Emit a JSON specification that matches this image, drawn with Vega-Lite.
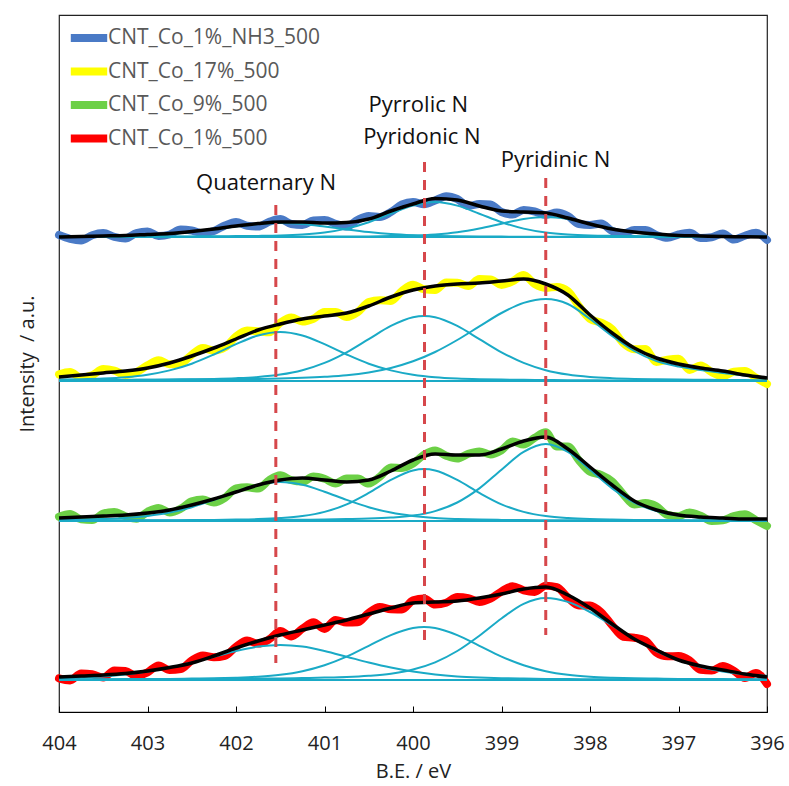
{
"$schema":"https://vega.github.io/schema/vega-lite/v6.json",
"width":708,"height":697,
"autosize":{"type":"none"},
"padding":{"left":59,"top":15,"right":22,"bottom":74},
"background":"white",
"config":{"view":{"stroke":"#222","strokeWidth":1.2},"font":"Open Sans"},
"datasets":{
"noisy":[
{"x":404,"y":477,"s":"CNT_Co_1%_NH3_500"},{"x":403.875,"y":473.2,"s":"CNT_Co_1%_NH3_500"},{"x":403.75,"y":471.5,"s":"CNT_Co_1%_NH3_500"},{"x":403.625,"y":476.8,"s":"CNT_Co_1%_NH3_500"},{"x":403.5,"y":479,"s":"CNT_Co_1%_NH3_500"},{"x":403.375,"y":475.2,"s":"CNT_Co_1%_NH3_500"},{"x":403.25,"y":473.5,"s":"CNT_Co_1%_NH3_500"},{"x":403.125,"y":479,"s":"CNT_Co_1%_NH3_500"},{"x":403,"y":480.5,"s":"CNT_Co_1%_NH3_500"},{"x":402.875,"y":476,"s":"CNT_Co_1%_NH3_500"},{"x":402.75,"y":477.5,"s":"CNT_Co_1%_NH3_500"},{"x":402.625,"y":482.5,"s":"CNT_Co_1%_NH3_500"},{"x":402.5,"y":481.5,"s":"CNT_Co_1%_NH3_500"},{"x":402.375,"y":478.8,"s":"CNT_Co_1%_NH3_500"},{"x":402.25,"y":481,"s":"CNT_Co_1%_NH3_500"},{"x":402.125,"y":486.5,"s":"CNT_Co_1%_NH3_500"},{"x":402,"y":490,"s":"CNT_Co_1%_NH3_500"},{"x":401.875,"y":486.2,"s":"CNT_Co_1%_NH3_500"},{"x":401.75,"y":485.5,"s":"CNT_Co_1%_NH3_500"},{"x":401.625,"y":490.2,"s":"CNT_Co_1%_NH3_500"},{"x":401.5,"y":493,"s":"CNT_Co_1%_NH3_500"},{"x":401.375,"y":488,"s":"CNT_Co_1%_NH3_500"},{"x":401.25,"y":487,"s":"CNT_Co_1%_NH3_500"},{"x":401.125,"y":491.5,"s":"CNT_Co_1%_NH3_500"},{"x":401,"y":492,"s":"CNT_Co_1%_NH3_500"},{"x":400.875,"y":488.2,"s":"CNT_Co_1%_NH3_500"},{"x":400.75,"y":485.5,"s":"CNT_Co_1%_NH3_500"},{"x":400.625,"y":492.2,"s":"CNT_Co_1%_NH3_500"},{"x":400.5,"y":496,"s":"CNT_Co_1%_NH3_500"},{"x":400.375,"y":495,"s":"CNT_Co_1%_NH3_500"},{"x":400.25,"y":500,"s":"CNT_Co_1%_NH3_500"},{"x":400.125,"y":507.5,"s":"CNT_Co_1%_NH3_500"},{"x":400,"y":510,"s":"CNT_Co_1%_NH3_500"},{"x":399.875,"y":507.8,"s":"CNT_Co_1%_NH3_500"},{"x":399.75,"y":511.5,"s":"CNT_Co_1%_NH3_500"},{"x":399.625,"y":515.8,"s":"CNT_Co_1%_NH3_500"},{"x":399.5,"y":513,"s":"CNT_Co_1%_NH3_500"},{"x":399.375,"y":506,"s":"CNT_Co_1%_NH3_500"},{"x":399.25,"y":508,"s":"CNT_Co_1%_NH3_500"},{"x":399.125,"y":507.5,"s":"CNT_Co_1%_NH3_500"},{"x":399,"y":500,"s":"CNT_Co_1%_NH3_500"},{"x":398.875,"y":497.5,"s":"CNT_Co_1%_NH3_500"},{"x":398.75,"y":502,"s":"CNT_Co_1%_NH3_500"},{"x":398.625,"y":500.5,"s":"CNT_Co_1%_NH3_500"},{"x":398.5,"y":497,"s":"CNT_Co_1%_NH3_500"},{"x":398.375,"y":499.5,"s":"CNT_Co_1%_NH3_500"},{"x":398.25,"y":496,"s":"CNT_Co_1%_NH3_500"},{"x":398.125,"y":488,"s":"CNT_Co_1%_NH3_500"},{"x":398,"y":487,"s":"CNT_Co_1%_NH3_500"},{"x":397.875,"y":488.5,"s":"CNT_Co_1%_NH3_500"},{"x":397.75,"y":481,"s":"CNT_Co_1%_NH3_500"},{"x":397.625,"y":478.5,"s":"CNT_Co_1%_NH3_500"},{"x":397.5,"y":482,"s":"CNT_Co_1%_NH3_500"},{"x":397.375,"y":482,"s":"CNT_Co_1%_NH3_500"},{"x":397.25,"y":477,"s":"CNT_Co_1%_NH3_500"},{"x":397.125,"y":474.2,"s":"CNT_Co_1%_NH3_500"},{"x":397,"y":477.5,"s":"CNT_Co_1%_NH3_500"},{"x":396.875,"y":479.2,"s":"CNT_Co_1%_NH3_500"},{"x":396.75,"y":474,"s":"CNT_Co_1%_NH3_500"},{"x":396.625,"y":474.8,"s":"CNT_Co_1%_NH3_500"},{"x":396.5,"y":478.5,"s":"CNT_Co_1%_NH3_500"},{"x":396.375,"y":472.4,"s":"CNT_Co_1%_NH3_500"},{"x":396.25,"y":476.3,"s":"CNT_Co_1%_NH3_500"},{"x":396.125,"y":479.2,"s":"CNT_Co_1%_NH3_500"},{"x":396,"y":472,"s":"CNT_Co_1%_NH3_500"},
{"x":404,"y":337.6,"s":"CNT_Co_17%_500"},{"x":403.875,"y":339.9,"s":"CNT_Co_17%_500"},{"x":403.75,"y":334.4,"s":"CNT_Co_17%_500"},{"x":403.625,"y":336.7,"s":"CNT_Co_17%_500"},{"x":403.5,"y":342.9,"s":"CNT_Co_17%_500"},{"x":403.375,"y":341.3,"s":"CNT_Co_17%_500"},{"x":403.25,"y":337.1,"s":"CNT_Co_17%_500"},{"x":403.125,"y":339.9,"s":"CNT_Co_17%_500"},{"x":403,"y":346.6,"s":"CNT_Co_17%_500"},{"x":402.875,"y":351.7,"s":"CNT_Co_17%_500"},{"x":402.75,"y":347.7,"s":"CNT_Co_17%_500"},{"x":402.625,"y":348.6,"s":"CNT_Co_17%_500"},{"x":402.5,"y":357.3,"s":"CNT_Co_17%_500"},{"x":402.375,"y":363.9,"s":"CNT_Co_17%_500"},{"x":402.25,"y":361.4,"s":"CNT_Co_17%_500"},{"x":402.125,"y":364.6,"s":"CNT_Co_17%_500"},{"x":402,"y":375.6,"s":"CNT_Co_17%_500"},{"x":401.875,"y":381.4,"s":"CNT_Co_17%_500"},{"x":401.75,"y":380.7,"s":"CNT_Co_17%_500"},{"x":401.625,"y":379.8,"s":"CNT_Co_17%_500"},{"x":401.5,"y":389.3,"s":"CNT_Co_17%_500"},{"x":401.375,"y":394.4,"s":"CNT_Co_17%_500"},{"x":401.25,"y":390.4,"s":"CNT_Co_17%_500"},{"x":401.125,"y":393.2,"s":"CNT_Co_17%_500"},{"x":401,"y":399.9,"s":"CNT_Co_17%_500"},{"x":400.875,"y":400.1,"s":"CNT_Co_17%_500"},{"x":400.75,"y":395.1,"s":"CNT_Co_17%_500"},{"x":400.625,"y":399.9,"s":"CNT_Co_17%_500"},{"x":400.5,"y":409.9,"s":"CNT_Co_17%_500"},{"x":400.375,"y":411.8,"s":"CNT_Co_17%_500"},{"x":400.25,"y":411.1,"s":"CNT_Co_17%_500"},{"x":400.125,"y":421.1,"s":"CNT_Co_17%_500"},{"x":400,"y":427.2,"s":"CNT_Co_17%_500"},{"x":399.875,"y":422.7,"s":"CNT_Co_17%_500"},{"x":399.75,"y":422.1,"s":"CNT_Co_17%_500"},{"x":399.625,"y":429.6,"s":"CNT_Co_17%_500"},{"x":399.5,"y":429.3,"s":"CNT_Co_17%_500"},{"x":399.375,"y":425.9,"s":"CNT_Co_17%_500"},{"x":399.25,"y":432.9,"s":"CNT_Co_17%_500"},{"x":399.125,"y":432.6,"s":"CNT_Co_17%_500"},{"x":399,"y":427.1,"s":"CNT_Co_17%_500"},{"x":398.875,"y":430.7,"s":"CNT_Co_17%_500"},{"x":398.75,"y":436.9,"s":"CNT_Co_17%_500"},{"x":398.625,"y":427.9,"s":"CNT_Co_17%_500"},{"x":398.5,"y":424.1,"s":"CNT_Co_17%_500"},{"x":398.375,"y":425.1,"s":"CNT_Co_17%_500"},{"x":398.25,"y":420.9,"s":"CNT_Co_17%_500"},{"x":398.125,"y":405.7,"s":"CNT_Co_17%_500"},{"x":398,"y":393.1,"s":"CNT_Co_17%_500"},{"x":397.875,"y":389.3,"s":"CNT_Co_17%_500"},{"x":397.75,"y":382.9,"s":"CNT_Co_17%_500"},{"x":397.625,"y":368.9,"s":"CNT_Co_17%_500"},{"x":397.5,"y":362.7,"s":"CNT_Co_17%_500"},{"x":397.375,"y":362.9,"s":"CNT_Co_17%_500"},{"x":397.25,"y":350.1,"s":"CNT_Co_17%_500"},{"x":397.125,"y":352.3,"s":"CNT_Co_17%_500"},{"x":397,"y":353.2,"s":"CNT_Co_17%_500"},{"x":396.875,"y":342.1,"s":"CNT_Co_17%_500"},{"x":396.75,"y":346.6,"s":"CNT_Co_17%_500"},{"x":396.625,"y":339.9,"s":"CNT_Co_17%_500"},{"x":396.5,"y":335.8,"s":"CNT_Co_17%_500"},{"x":396.375,"y":340.3,"s":"CNT_Co_17%_500"},{"x":396.25,"y":340.9,"s":"CNT_Co_17%_500"},{"x":396.125,"y":334.2,"s":"CNT_Co_17%_500"},{"x":396,"y":328,"s":"CNT_Co_17%_500"},
{"x":404,"y":195.2,"s":"CNT_Co_9%_500"},{"x":403.875,"y":198.1,"s":"CNT_Co_9%_500"},{"x":403.75,"y":192.6,"s":"CNT_Co_9%_500"},{"x":403.625,"y":191.9,"s":"CNT_Co_9%_500"},{"x":403.5,"y":198.4,"s":"CNT_Co_9%_500"},{"x":403.375,"y":200.1,"s":"CNT_Co_9%_500"},{"x":403.25,"y":195.8,"s":"CNT_Co_9%_500"},{"x":403.125,"y":193.2,"s":"CNT_Co_9%_500"},{"x":403,"y":200.2,"s":"CNT_Co_9%_500"},{"x":402.875,"y":204.1,"s":"CNT_Co_9%_500"},{"x":402.75,"y":199.6,"s":"CNT_Co_9%_500"},{"x":402.625,"y":203.3,"s":"CNT_Co_9%_500"},{"x":402.5,"y":210.6,"s":"CNT_Co_9%_500"},{"x":402.375,"y":212.4,"s":"CNT_Co_9%_500"},{"x":402.25,"y":209.4,"s":"CNT_Co_9%_500"},{"x":402.125,"y":214.1,"s":"CNT_Co_9%_500"},{"x":402,"y":223.6,"s":"CNT_Co_9%_500"},{"x":401.875,"y":224.7,"s":"CNT_Co_9%_500"},{"x":401.75,"y":223.4,"s":"CNT_Co_9%_500"},{"x":401.625,"y":231.9,"s":"CNT_Co_9%_500"},{"x":401.5,"y":236.8,"s":"CNT_Co_9%_500"},{"x":401.375,"y":231.8,"s":"CNT_Co_9%_500"},{"x":401.25,"y":230.4,"s":"CNT_Co_9%_500"},{"x":401.125,"y":235.4,"s":"CNT_Co_9%_500"},{"x":401,"y":233.2,"s":"CNT_Co_9%_500"},{"x":400.875,"y":228.6,"s":"CNT_Co_9%_500"},{"x":400.75,"y":233.6,"s":"CNT_Co_9%_500"},{"x":400.625,"y":233.4,"s":"CNT_Co_9%_500"},{"x":400.5,"y":228.4,"s":"CNT_Co_9%_500"},{"x":400.375,"y":235.3,"s":"CNT_Co_9%_500"},{"x":400.25,"y":244.6,"s":"CNT_Co_9%_500"},{"x":400.125,"y":244.1,"s":"CNT_Co_9%_500"},{"x":400,"y":248.4,"s":"CNT_Co_9%_500"},{"x":399.875,"y":257.4,"s":"CNT_Co_9%_500"},{"x":399.75,"y":261.6,"s":"CNT_Co_9%_500"},{"x":399.625,"y":256.3,"s":"CNT_Co_9%_500"},{"x":399.5,"y":253.4,"s":"CNT_Co_9%_500"},{"x":399.375,"y":258.2,"s":"CNT_Co_9%_500"},{"x":399.25,"y":260.6,"s":"CNT_Co_9%_500"},{"x":399.125,"y":257.6,"s":"CNT_Co_9%_500"},{"x":399,"y":261.8,"s":"CNT_Co_9%_500"},{"x":398.875,"y":270.6,"s":"CNT_Co_9%_500"},{"x":398.75,"y":267.4,"s":"CNT_Co_9%_500"},{"x":398.625,"y":274.2,"s":"CNT_Co_9%_500"},{"x":398.5,"y":279.8,"s":"CNT_Co_9%_500"},{"x":398.375,"y":265.4,"s":"CNT_Co_9%_500"},{"x":398.25,"y":265.4,"s":"CNT_Co_9%_500"},{"x":398.125,"y":251.6,"s":"CNT_Co_9%_500"},{"x":398,"y":240.2,"s":"CNT_Co_9%_500"},{"x":397.875,"y":237.2,"s":"CNT_Co_9%_500"},{"x":397.75,"y":230.6,"s":"CNT_Co_9%_500"},{"x":397.625,"y":217.8,"s":"CNT_Co_9%_500"},{"x":397.5,"y":207.4,"s":"CNT_Co_9%_500"},{"x":397.375,"y":208.9,"s":"CNT_Co_9%_500"},{"x":397.25,"y":205.6,"s":"CNT_Co_9%_500"},{"x":397.125,"y":197.1,"s":"CNT_Co_9%_500"},{"x":397,"y":195.8,"s":"CNT_Co_9%_500"},{"x":396.875,"y":199.6,"s":"CNT_Co_9%_500"},{"x":396.75,"y":196.2,"s":"CNT_Co_9%_500"},{"x":396.625,"y":190.9,"s":"CNT_Co_9%_500"},{"x":396.5,"y":191.6,"s":"CNT_Co_9%_500"},{"x":396.375,"y":195.9,"s":"CNT_Co_9%_500"},{"x":396.25,"y":197.8,"s":"CNT_Co_9%_500"},{"x":396.125,"y":191.8,"s":"CNT_Co_9%_500"},{"x":396,"y":186,"s":"CNT_Co_9%_500"},
{"x":404,"y":33.7,"s":"CNT_Co_1%_500"},{"x":403.875,"y":31.6,"s":"CNT_Co_1%_500"},{"x":403.75,"y":38.6,"s":"CNT_Co_1%_500"},{"x":403.625,"y":37.8,"s":"CNT_Co_1%_500"},{"x":403.5,"y":34.4,"s":"CNT_Co_1%_500"},{"x":403.375,"y":41.6,"s":"CNT_Co_1%_500"},{"x":403.25,"y":41.1,"s":"CNT_Co_1%_500"},{"x":403.125,"y":35.9,"s":"CNT_Co_1%_500"},{"x":403,"y":39.7,"s":"CNT_Co_1%_500"},{"x":402.875,"y":46.6,"s":"CNT_Co_1%_500"},{"x":402.75,"y":41.9,"s":"CNT_Co_1%_500"},{"x":402.625,"y":42.9,"s":"CNT_Co_1%_500"},{"x":402.5,"y":51.6,"s":"CNT_Co_1%_500"},{"x":402.375,"y":56.4,"s":"CNT_Co_1%_500"},{"x":402.25,"y":54.7,"s":"CNT_Co_1%_500"},{"x":402.125,"y":56.1,"s":"CNT_Co_1%_500"},{"x":402,"y":65.3,"s":"CNT_Co_1%_500"},{"x":401.875,"y":71.4,"s":"CNT_Co_1%_500"},{"x":401.75,"y":68.4,"s":"CNT_Co_1%_500"},{"x":401.625,"y":72.7,"s":"CNT_Co_1%_500"},{"x":401.5,"y":80.9,"s":"CNT_Co_1%_500"},{"x":401.375,"y":75.6,"s":"CNT_Co_1%_500"},{"x":401.25,"y":83.3,"s":"CNT_Co_1%_500"},{"x":401.125,"y":89.7,"s":"CNT_Co_1%_500"},{"x":401,"y":83.1,"s":"CNT_Co_1%_500"},{"x":400.875,"y":92.1,"s":"CNT_Co_1%_500"},{"x":400.75,"y":89.4,"s":"CNT_Co_1%_500"},{"x":400.625,"y":89.8,"s":"CNT_Co_1%_500"},{"x":400.5,"y":99.3,"s":"CNT_Co_1%_500"},{"x":400.375,"y":104.9,"s":"CNT_Co_1%_500"},{"x":400.25,"y":102.7,"s":"CNT_Co_1%_500"},{"x":400.125,"y":102.6,"s":"CNT_Co_1%_500"},{"x":400,"y":111.6,"s":"CNT_Co_1%_500"},{"x":399.875,"y":113.4,"s":"CNT_Co_1%_500"},{"x":399.75,"y":107.4,"s":"CNT_Co_1%_500"},{"x":399.625,"y":109.2,"s":"CNT_Co_1%_500"},{"x":399.5,"y":114.9,"s":"CNT_Co_1%_500"},{"x":399.375,"y":113.8,"s":"CNT_Co_1%_500"},{"x":399.25,"y":110.1,"s":"CNT_Co_1%_500"},{"x":399.125,"y":113.4,"s":"CNT_Co_1%_500"},{"x":399,"y":120.6,"s":"CNT_Co_1%_500"},{"x":398.875,"y":125.7,"s":"CNT_Co_1%_500"},{"x":398.75,"y":121.7,"s":"CNT_Co_1%_500"},{"x":398.625,"y":120.1,"s":"CNT_Co_1%_500"},{"x":398.5,"y":126.3,"s":"CNT_Co_1%_500"},{"x":398.375,"y":124.9,"s":"CNT_Co_1%_500"},{"x":398.25,"y":114.4,"s":"CNT_Co_1%_500"},{"x":398.125,"y":106.6,"s":"CNT_Co_1%_500"},{"x":398,"y":106.6,"s":"CNT_Co_1%_500"},{"x":397.875,"y":99.9,"s":"CNT_Co_1%_500"},{"x":397.75,"y":86.7,"s":"CNT_Co_1%_500"},{"x":397.625,"y":75.3,"s":"CNT_Co_1%_500"},{"x":397.5,"y":74.3,"s":"CNT_Co_1%_500"},{"x":397.375,"y":71.4,"s":"CNT_Co_1%_500"},{"x":397.25,"y":59.4,"s":"CNT_Co_1%_500"},{"x":397.125,"y":55.7,"s":"CNT_Co_1%_500"},{"x":397,"y":55.9,"s":"CNT_Co_1%_500"},{"x":396.875,"y":51.6,"s":"CNT_Co_1%_500"},{"x":396.75,"y":42.1,"s":"CNT_Co_1%_500"},{"x":396.625,"y":41.4,"s":"CNT_Co_1%_500"},{"x":396.5,"y":45.9,"s":"CNT_Co_1%_500"},{"x":396.375,"y":41.3,"s":"CNT_Co_1%_500"},{"x":396.25,"y":34.1,"s":"CNT_Co_1%_500"},{"x":396.125,"y":39.1,"s":"CNT_Co_1%_500"},{"x":396,"y":28,"s":"CNT_Co_1%_500"}
],
"fit":[
{"x":404,"y":475,"s":"b"},{"x":403.75,"y":475.5,"s":"b"},{"x":403.5,"y":476,"s":"b"},{"x":403.25,"y":476.5,"s":"b"},{"x":403,"y":477.5,"s":"b"},{"x":402.75,"y":478.5,"s":"b"},{"x":402.5,"y":480.5,"s":"b"},{"x":402.25,"y":483,"s":"b"},{"x":402,"y":486,"s":"b"},{"x":401.75,"y":488.5,"s":"b"},{"x":401.5,"y":490,"s":"b"},{"x":401.25,"y":490,"s":"b"},{"x":401,"y":489,"s":"b"},{"x":400.75,"y":489.5,"s":"b"},{"x":400.5,"y":493,"s":"b"},{"x":400.25,"y":501,"s":"b"},{"x":400,"y":508,"s":"b"},{"x":399.75,"y":513.5,"s":"b"},{"x":399.5,"y":512,"s":"b"},{"x":399.25,"y":506,"s":"b"},{"x":399,"y":501,"s":"b"},{"x":398.75,"y":500,"s":"b"},{"x":398.5,"y":499,"s":"b"},{"x":398.25,"y":494,"s":"b"},{"x":398,"y":488,"s":"b"},{"x":397.75,"y":483,"s":"b"},{"x":397.5,"y":480,"s":"b"},{"x":397.25,"y":478,"s":"b"},{"x":397,"y":476.5,"s":"b"},{"x":396.75,"y":476,"s":"b"},{"x":396.5,"y":475.5,"s":"b"},{"x":396.25,"y":475.3,"s":"b"},{"x":396,"y":475,"s":"b"},
{"x":404,"y":335,"s":"y"},{"x":403.75,"y":337,"s":"y"},{"x":403.5,"y":339,"s":"y"},{"x":403.25,"y":341,"s":"y"},{"x":403,"y":344,"s":"y"},{"x":402.75,"y":349,"s":"y"},{"x":402.5,"y":356,"s":"y"},{"x":402.25,"y":364,"s":"y"},{"x":402,"y":373,"s":"y"},{"x":401.75,"y":382,"s":"y"},{"x":401.5,"y":388,"s":"y"},{"x":401.25,"y":393,"s":"y"},{"x":401,"y":396,"s":"y"},{"x":400.75,"y":399,"s":"y"},{"x":400.5,"y":406,"s":"y"},{"x":400.25,"y":415,"s":"y"},{"x":400,"y":422,"s":"y"},{"x":399.75,"y":426,"s":"y"},{"x":399.5,"y":428,"s":"y"},{"x":399.25,"y":429,"s":"y"},{"x":399,"y":431,"s":"y"},{"x":398.75,"y":433,"s":"y"},{"x":398.5,"y":428,"s":"y"},{"x":398.25,"y":417,"s":"y"},{"x":398,"y":397,"s":"y"},{"x":397.75,"y":379,"s":"y"},{"x":397.5,"y":364,"s":"y"},{"x":397.25,"y":354,"s":"y"},{"x":397,"y":348,"s":"y"},{"x":396.75,"y":344,"s":"y"},{"x":396.5,"y":341,"s":"y"},{"x":396.25,"y":337,"s":"y"},{"x":396,"y":334,"s":"y"},
{"x":404,"y":194,"s":"g"},{"x":403.75,"y":195,"s":"g"},{"x":403.5,"y":196,"s":"g"},{"x":403.25,"y":197,"s":"g"},{"x":403,"y":199,"s":"g"},{"x":402.75,"y":202,"s":"g"},{"x":402.5,"y":207,"s":"g"},{"x":402.25,"y":213,"s":"g"},{"x":402,"y":220,"s":"g"},{"x":401.75,"y":227,"s":"g"},{"x":401.5,"y":232,"s":"g"},{"x":401.25,"y":234,"s":"g"},{"x":401,"y":232,"s":"g"},{"x":400.75,"y":230,"s":"g"},{"x":400.5,"y":232,"s":"g"},{"x":400.25,"y":241,"s":"g"},{"x":400,"y":252,"s":"g"},{"x":399.75,"y":258,"s":"g"},{"x":399.5,"y":257,"s":"g"},{"x":399.25,"y":257,"s":"g"},{"x":399,"y":263,"s":"g"},{"x":398.75,"y":271,"s":"g"},{"x":398.5,"y":275,"s":"g"},{"x":398.25,"y":263,"s":"g"},{"x":398,"y":245,"s":"g"},{"x":397.75,"y":227,"s":"g"},{"x":397.5,"y":211,"s":"g"},{"x":397.25,"y":202,"s":"g"},{"x":397,"y":197,"s":"g"},{"x":396.75,"y":195,"s":"g"},{"x":396.5,"y":194,"s":"g"},{"x":396.25,"y":193,"s":"g"},{"x":396,"y":193,"s":"g"},
{"x":404,"y":35,"s":"r"},{"x":403.75,"y":36,"s":"r"},{"x":403.5,"y":37,"s":"r"},{"x":403.25,"y":38.5,"s":"r"},{"x":403,"y":41,"s":"r"},{"x":402.75,"y":44.5,"s":"r"},{"x":402.5,"y":49,"s":"r"},{"x":402.25,"y":56,"s":"r"},{"x":402,"y":64,"s":"r"},{"x":401.75,"y":71,"s":"r"},{"x":401.5,"y":77,"s":"r"},{"x":401.25,"y":82,"s":"r"},{"x":401,"y":87,"s":"r"},{"x":400.75,"y":92,"s":"r"},{"x":400.5,"y":98,"s":"r"},{"x":400.25,"y":104,"s":"r"},{"x":400,"y":109,"s":"r"},{"x":399.75,"y":110,"s":"r"},{"x":399.5,"y":111,"s":"r"},{"x":399.25,"y":114,"s":"r"},{"x":399,"y":118,"s":"r"},{"x":398.75,"y":123,"s":"r"},{"x":398.5,"y":125,"s":"r"},{"x":398.25,"y":117,"s":"r"},{"x":398,"y":104,"s":"r"},{"x":397.75,"y":88,"s":"r"},{"x":397.5,"y":73,"s":"r"},{"x":397.25,"y":62,"s":"r"},{"x":397,"y":52,"s":"r"},{"x":396.75,"y":46,"s":"r"},{"x":396.5,"y":42,"s":"r"},{"x":396.25,"y":38,"s":"r"},{"x":396,"y":35,"s":"r"}
],
"comp":[
{"x":404,"y":475,"c":"b0"},{"x":396,"y":475,"c":"b0"},{"x":404,"y":331,"c":"y0"},{"x":396,"y":331,"c":"y0"},{"x":404,"y":191,"c":"g0"},{"x":396,"y":191,"c":"g0"},{"x":404,"y":32,"c":"r0"},{"x":396,"y":32,"c":"r0"},
{"x":404,"y":475.4,"c":"bq"},{"x":403.75,"y":475.5,"c":"bq"},{"x":403.5,"y":475.7,"c":"bq"},{"x":403.25,"y":476.1,"c":"bq"},{"x":403,"y":476.8,"c":"bq"},{"x":402.75,"y":478,"c":"bq"},{"x":402.5,"y":480,"c":"bq"},{"x":402.25,"y":482.6,"c":"bq"},{"x":402,"y":485.5,"c":"bq"},{"x":401.75,"y":488,"c":"bq"},{"x":401.5,"y":489,"c":"bq"},{"x":401.25,"y":488,"c":"bq"},{"x":401,"y":485.5,"c":"bq"},{"x":400.75,"y":482.6,"c":"bq"},{"x":400.5,"y":480,"c":"bq"},{"x":400.25,"y":478,"c":"bq"},{"x":400,"y":476.8,"c":"bq"},{"x":399.75,"y":476.1,"c":"bq"},{"x":399.5,"y":475.7,"c":"bq"},{"x":399.25,"y":475.5,"c":"bq"},{"x":399,"y":475.4,"c":"bq"},{"x":398.75,"y":475.3,"c":"bq"},{"x":398.5,"y":475.3,"c":"bq"},{"x":398.25,"y":475.2,"c":"bq"},{"x":398,"y":475.2,"c":"bq"},{"x":397.75,"y":475.2,"c":"bq"},{"x":397.5,"y":475.2,"c":"bq"},{"x":397.25,"y":475.1,"c":"bq"},{"x":397,"y":475.1,"c":"bq"},{"x":396.75,"y":475.1,"c":"bq"},{"x":396.5,"y":475.1,"c":"bq"},{"x":396.25,"y":475.1,"c":"bq"},{"x":396,"y":475.1,"c":"bq"},
{"x":404,"y":475.3,"c":"bp"},{"x":403.75,"y":475.3,"c":"bp"},{"x":403.5,"y":475.3,"c":"bp"},{"x":403.25,"y":475.4,"c":"bp"},{"x":403,"y":475.4,"c":"bp"},{"x":402.75,"y":475.5,"c":"bp"},{"x":402.5,"y":475.6,"c":"bp"},{"x":402.25,"y":475.7,"c":"bp"},{"x":402,"y":475.9,"c":"bp"},{"x":401.75,"y":476.1,"c":"bp"},{"x":401.5,"y":476.5,"c":"bp"},{"x":401.25,"y":477.5,"c":"bp"},{"x":401,"y":479.5,"c":"bp"},{"x":400.75,"y":483.4,"c":"bp"},{"x":400.5,"y":489.8,"c":"bp"},{"x":400.25,"y":498.3,"c":"bp"},{"x":400,"y":506.4,"c":"bp"},{"x":399.75,"y":510,"c":"bp"},{"x":399.5,"y":506.4,"c":"bp"},{"x":399.25,"y":498.3,"c":"bp"},{"x":399,"y":489.8,"c":"bp"},{"x":398.75,"y":483.4,"c":"bp"},{"x":398.5,"y":479.5,"c":"bp"},{"x":398.25,"y":477.5,"c":"bp"},{"x":398,"y":476.5,"c":"bp"},{"x":397.75,"y":476.1,"c":"bp"},{"x":397.5,"y":475.9,"c":"bp"},{"x":397.25,"y":475.7,"c":"bp"},{"x":397,"y":475.6,"c":"bp"},{"x":396.75,"y":475.5,"c":"bp"},{"x":396.5,"y":475.4,"c":"bp"},{"x":396.25,"y":475.4,"c":"bp"},{"x":396,"y":475.3,"c":"bp"},
{"x":404,"y":475.1,"c":"bd"},{"x":403.75,"y":475.1,"c":"bd"},{"x":403.5,"y":475.1,"c":"bd"},{"x":403.25,"y":475.1,"c":"bd"},{"x":403,"y":475.1,"c":"bd"},{"x":402.75,"y":475.1,"c":"bd"},{"x":402.5,"y":475.2,"c":"bd"},{"x":402.25,"y":475.2,"c":"bd"},{"x":402,"y":475.2,"c":"bd"},{"x":401.75,"y":475.2,"c":"bd"},{"x":401.5,"y":475.3,"c":"bd"},{"x":401.25,"y":475.3,"c":"bd"},{"x":401,"y":475.4,"c":"bd"},{"x":400.75,"y":475.5,"c":"bd"},{"x":400.5,"y":475.6,"c":"bd"},{"x":400.25,"y":475.9,"c":"bd"},{"x":400,"y":476.4,"c":"bd"},{"x":399.75,"y":477.6,"c":"bd"},{"x":399.5,"y":479.8,"c":"bd"},{"x":399.25,"y":483.5,"c":"bd"},{"x":399,"y":488.3,"c":"bd"},{"x":398.75,"y":493,"c":"bd"},{"x":398.5,"y":495,"c":"bd"},{"x":398.25,"y":493,"c":"bd"},{"x":398,"y":488.3,"c":"bd"},{"x":397.75,"y":483.5,"c":"bd"},{"x":397.5,"y":479.8,"c":"bd"},{"x":397.25,"y":477.6,"c":"bd"},{"x":397,"y":476.4,"c":"bd"},{"x":396.75,"y":475.9,"c":"bd"},{"x":396.5,"y":475.6,"c":"bd"},{"x":396.25,"y":475.5,"c":"bd"},{"x":396,"y":475.4,"c":"bd"},
{"x":404,"y":332.4,"c":"yq"},{"x":403.75,"y":332.8,"c":"yq"},{"x":403.5,"y":333.5,"c":"yq"},{"x":403.25,"y":334.8,"c":"yq"},{"x":403,"y":337.3,"c":"yq"},{"x":402.75,"y":341.6,"c":"yq"},{"x":402.5,"y":348.3,"c":"yq"},{"x":402.25,"y":357.5,"c":"yq"},{"x":402,"y":367.8,"c":"yq"},{"x":401.75,"y":376.5,"c":"yq"},{"x":401.5,"y":380,"c":"yq"},{"x":401.25,"y":376.5,"c":"yq"},{"x":401,"y":367.8,"c":"yq"},{"x":400.75,"y":357.5,"c":"yq"},{"x":400.5,"y":348.3,"c":"yq"},{"x":400.25,"y":341.6,"c":"yq"},{"x":400,"y":337.3,"c":"yq"},{"x":399.75,"y":334.8,"c":"yq"},{"x":399.5,"y":333.5,"c":"yq"},{"x":399.25,"y":332.8,"c":"yq"},{"x":399,"y":332.4,"c":"yq"},{"x":398.75,"y":332.2,"c":"yq"},{"x":398.5,"y":332,"c":"yq"},{"x":398.25,"y":331.8,"c":"yq"},{"x":398,"y":331.7,"c":"yq"},{"x":397.75,"y":331.6,"c":"yq"},{"x":397.5,"y":331.6,"c":"yq"},{"x":397.25,"y":331.5,"c":"yq"},{"x":397,"y":331.4,"c":"yq"},{"x":396.75,"y":331.4,"c":"yq"},{"x":396.5,"y":331.4,"c":"yq"},{"x":396.25,"y":331.3,"c":"yq"},{"x":396,"y":331.3,"c":"yq"},
{"x":404,"y":331.7,"c":"yp"},{"x":403.75,"y":331.8,"c":"yp"},{"x":403.5,"y":331.9,"c":"yp"},{"x":403.25,"y":332,"c":"yp"},{"x":403,"y":332.2,"c":"yp"},{"x":402.75,"y":332.4,"c":"yp"},{"x":402.5,"y":332.7,"c":"yp"},{"x":402.25,"y":333.1,"c":"yp"},{"x":402,"y":333.8,"c":"yp"},{"x":401.75,"y":335,"c":"yp"},{"x":401.5,"y":337.4,"c":"yp"},{"x":401.25,"y":341.8,"c":"yp"},{"x":401,"y":349.1,"c":"yp"},{"x":400.75,"y":359.7,"c":"yp"},{"x":400.5,"y":372.9,"c":"yp"},{"x":400.25,"y":386.1,"c":"yp"},{"x":400,"y":394.8,"c":"yp"},{"x":399.875,"y":396,"c":"yp"},{"x":399.75,"y":394.8,"c":"yp"},{"x":399.5,"y":386.1,"c":"yp"},{"x":399.25,"y":372.9,"c":"yp"},{"x":399,"y":359.7,"c":"yp"},{"x":398.75,"y":349.1,"c":"yp"},{"x":398.5,"y":341.8,"c":"yp"},{"x":398.25,"y":337.4,"c":"yp"},{"x":398,"y":335,"c":"yp"},{"x":397.75,"y":333.8,"c":"yp"},{"x":397.5,"y":333.1,"c":"yp"},{"x":397.25,"y":332.7,"c":"yp"},{"x":397,"y":332.4,"c":"yp"},{"x":396.75,"y":332.2,"c":"yp"},{"x":396.5,"y":332,"c":"yp"},{"x":396.25,"y":331.9,"c":"yp"},{"x":396,"y":331.8,"c":"yp"},
{"x":404,"y":331.8,"c":"yd"},{"x":403.75,"y":331.9,"c":"yd"},{"x":403.5,"y":332,"c":"yd"},{"x":403.25,"y":332.1,"c":"yd"},{"x":403,"y":332.2,"c":"yd"},{"x":402.75,"y":332.3,"c":"yd"},{"x":402.5,"y":332.5,"c":"yd"},{"x":402.25,"y":332.6,"c":"yd"},{"x":402,"y":332.9,"c":"yd"},{"x":401.75,"y":333.1,"c":"yd"},{"x":401.5,"y":333.5,"c":"yd"},{"x":401.25,"y":334.2,"c":"yd"},{"x":401,"y":335.2,"c":"yd"},{"x":400.75,"y":336.7,"c":"yd"},{"x":400.5,"y":339.5,"c":"yd"},{"x":400.25,"y":344,"c":"yd"},{"x":400,"y":350.7,"c":"yd"},{"x":399.75,"y":360,"c":"yd"},{"x":399.5,"y":372,"c":"yd"},{"x":399.25,"y":385.6,"c":"yd"},{"x":399,"y":399,"c":"yd"},{"x":398.75,"y":409.1,"c":"yd"},{"x":398.5,"y":413,"c":"yd"},{"x":398.25,"y":408,"c":"yd"},{"x":398,"y":393,"c":"yd"},{"x":397.75,"y":376,"c":"yd"},{"x":397.5,"y":361,"c":"yd"},{"x":397.25,"y":351,"c":"yd"},{"x":397,"y":345.5,"c":"yd"},{"x":396.75,"y":342,"c":"yd"},{"x":396.5,"y":339,"c":"yd"},{"x":396.25,"y":336.5,"c":"yd"},{"x":396,"y":334.5,"c":"yd"},
{"x":404,"y":192.1,"c":"gq"},{"x":403.75,"y":192.4,"c":"gq"},{"x":403.5,"y":193,"c":"gq"},{"x":403.25,"y":194,"c":"gq"},{"x":403,"y":196,"c":"gq"},{"x":402.75,"y":199.4,"c":"gq"},{"x":402.5,"y":204.8,"c":"gq"},{"x":402.25,"y":212.1,"c":"gq"},{"x":402,"y":220.3,"c":"gq"},{"x":401.75,"y":227.2,"c":"gq"},{"x":401.5,"y":230,"c":"gq"},{"x":401.25,"y":227.2,"c":"gq"},{"x":401,"y":220.3,"c":"gq"},{"x":400.75,"y":212.1,"c":"gq"},{"x":400.5,"y":204.8,"c":"gq"},{"x":400.25,"y":199.4,"c":"gq"},{"x":400,"y":196,"c":"gq"},{"x":399.75,"y":194,"c":"gq"},{"x":399.5,"y":193,"c":"gq"},{"x":399.25,"y":192.4,"c":"gq"},{"x":399,"y":192.1,"c":"gq"},{"x":398.75,"y":191.9,"c":"gq"},{"x":398.5,"y":191.8,"c":"gq"},{"x":398.25,"y":191.7,"c":"gq"},{"x":398,"y":191.6,"c":"gq"},{"x":397.75,"y":191.5,"c":"gq"},{"x":397.5,"y":191.5,"c":"gq"},{"x":397.25,"y":191.4,"c":"gq"},{"x":397,"y":191.4,"c":"gq"},{"x":396.75,"y":191.3,"c":"gq"},{"x":396.5,"y":191.3,"c":"gq"},{"x":396.25,"y":191.3,"c":"gq"},{"x":396,"y":191.2,"c":"gq"},
{"x":404,"y":191.4,"c":"gp"},{"x":403.75,"y":191.5,"c":"gp"},{"x":403.5,"y":191.5,"c":"gp"},{"x":403.25,"y":191.6,"c":"gp"},{"x":403,"y":191.7,"c":"gp"},{"x":402.75,"y":191.8,"c":"gp"},{"x":402.5,"y":191.9,"c":"gp"},{"x":402.25,"y":192.1,"c":"gp"},{"x":402,"y":192.4,"c":"gp"},{"x":401.75,"y":192.9,"c":"gp"},{"x":401.5,"y":193.9,"c":"gp"},{"x":401.25,"y":195.9,"c":"gp"},{"x":401,"y":200.1,"c":"gp"},{"x":400.75,"y":207.7,"c":"gp"},{"x":400.5,"y":219.1,"c":"gp"},{"x":400.25,"y":232.1,"c":"gp"},{"x":400,"y":241.6,"c":"gp"},{"x":399.875,"y":243,"c":"gp"},{"x":399.75,"y":241.6,"c":"gp"},{"x":399.5,"y":232.1,"c":"gp"},{"x":399.25,"y":219.1,"c":"gp"},{"x":399,"y":207.7,"c":"gp"},{"x":398.75,"y":200.1,"c":"gp"},{"x":398.5,"y":195.9,"c":"gp"},{"x":398.25,"y":193.9,"c":"gp"},{"x":398,"y":192.9,"c":"gp"},{"x":397.75,"y":192.4,"c":"gp"},{"x":397.5,"y":192.1,"c":"gp"},{"x":397.25,"y":191.9,"c":"gp"},{"x":397,"y":191.8,"c":"gp"},{"x":396.75,"y":191.7,"c":"gp"},{"x":396.5,"y":191.6,"c":"gp"},{"x":396.25,"y":191.5,"c":"gp"},{"x":396,"y":191.5,"c":"gp"},
{"x":404,"y":191.4,"c":"gd"},{"x":403.75,"y":191.4,"c":"gd"},{"x":403.5,"y":191.4,"c":"gd"},{"x":403.25,"y":191.5,"c":"gd"},{"x":403,"y":191.5,"c":"gd"},{"x":402.75,"y":191.6,"c":"gd"},{"x":402.5,"y":191.6,"c":"gd"},{"x":402.25,"y":191.7,"c":"gd"},{"x":402,"y":191.8,"c":"gd"},{"x":401.75,"y":191.9,"c":"gd"},{"x":401.5,"y":192.1,"c":"gd"},{"x":401.25,"y":192.3,"c":"gd"},{"x":401,"y":192.5,"c":"gd"},{"x":400.75,"y":192.9,"c":"gd"},{"x":400.5,"y":193.4,"c":"gd"},{"x":400.25,"y":194.4,"c":"gd"},{"x":400,"y":196.4,"c":"gd"},{"x":399.75,"y":200.9,"c":"gd"},{"x":399.5,"y":209.5,"c":"gd"},{"x":399.25,"y":223.6,"c":"gd"},{"x":399,"y":242.3,"c":"gd"},{"x":398.75,"y":260.1,"c":"gd"},{"x":398.5,"y":268,"c":"gd"},{"x":398.25,"y":260.1,"c":"gd"},{"x":398,"y":242.3,"c":"gd"},{"x":397.75,"y":223.6,"c":"gd"},{"x":397.5,"y":209.5,"c":"gd"},{"x":397.25,"y":200.9,"c":"gd"},{"x":397,"y":196.4,"c":"gd"},{"x":396.75,"y":194.4,"c":"gd"},{"x":396.5,"y":193.4,"c":"gd"},{"x":396.25,"y":192.9,"c":"gd"},{"x":396,"y":192.5,"c":"gd"},
{"x":404,"y":33.8,"c":"rq"},{"x":403.75,"y":34.5,"c":"rq"},{"x":403.5,"y":35.6,"c":"rq"},{"x":403.25,"y":37.5,"c":"rq"},{"x":403,"y":40.4,"c":"rq"},{"x":402.75,"y":44.4,"c":"rq"},{"x":402.5,"y":49.5,"c":"rq"},{"x":402.25,"y":55.3,"c":"rq"},{"x":402,"y":61,"c":"rq"},{"x":401.75,"y":65.4,"c":"rq"},{"x":401.5,"y":67,"c":"rq"},{"x":401.25,"y":65.4,"c":"rq"},{"x":401,"y":61,"c":"rq"},{"x":400.75,"y":55.3,"c":"rq"},{"x":400.5,"y":49.5,"c":"rq"},{"x":400.25,"y":44.4,"c":"rq"},{"x":400,"y":40.4,"c":"rq"},{"x":399.75,"y":37.5,"c":"rq"},{"x":399.5,"y":35.6,"c":"rq"},{"x":399.25,"y":34.5,"c":"rq"},{"x":399,"y":33.8,"c":"rq"},{"x":398.75,"y":33.4,"c":"rq"},{"x":398.5,"y":33.1,"c":"rq"},{"x":398.25,"y":32.9,"c":"rq"},{"x":398,"y":32.8,"c":"rq"},{"x":397.75,"y":32.7,"c":"rq"},{"x":397.5,"y":32.6,"c":"rq"},{"x":397.25,"y":32.6,"c":"rq"},{"x":397,"y":32.5,"c":"rq"},{"x":396.75,"y":32.5,"c":"rq"},{"x":396.5,"y":32.4,"c":"rq"},{"x":396.25,"y":32.4,"c":"rq"},{"x":396,"y":32.4,"c":"rq"},
{"x":404,"y":32.6,"c":"rp"},{"x":403.75,"y":32.7,"c":"rp"},{"x":403.5,"y":32.7,"c":"rp"},{"x":403.25,"y":32.9,"c":"rp"},{"x":403,"y":33,"c":"rp"},{"x":402.75,"y":33.1,"c":"rp"},{"x":402.5,"y":33.4,"c":"rp"},{"x":402.25,"y":33.7,"c":"rp"},{"x":402,"y":34.3,"c":"rp"},{"x":401.75,"y":35.3,"c":"rp"},{"x":401.5,"y":37.2,"c":"rp"},{"x":401.25,"y":40.8,"c":"rp"},{"x":401,"y":46.8,"c":"rp"},{"x":400.75,"y":55.4,"c":"rp"},{"x":400.5,"y":66.2,"c":"rp"},{"x":400.25,"y":76.9,"c":"rp"},{"x":400,"y":84,"c":"rp"},{"x":399.875,"y":85,"c":"rp"},{"x":399.75,"y":84,"c":"rp"},{"x":399.5,"y":76.9,"c":"rp"},{"x":399.25,"y":66.2,"c":"rp"},{"x":399,"y":55.4,"c":"rp"},{"x":398.75,"y":46.8,"c":"rp"},{"x":398.5,"y":40.8,"c":"rp"},{"x":398.25,"y":37.2,"c":"rp"},{"x":398,"y":35.3,"c":"rp"},{"x":397.75,"y":34.3,"c":"rp"},{"x":397.5,"y":33.7,"c":"rp"},{"x":397.25,"y":33.4,"c":"rp"},{"x":397,"y":33.1,"c":"rp"},{"x":396.75,"y":33,"c":"rp"},{"x":396.5,"y":32.9,"c":"rp"},{"x":396.25,"y":32.7,"c":"rp"},{"x":396,"y":32.7,"c":"rp"},
{"x":404,"y":32.5,"c":"rd"},{"x":403.75,"y":32.6,"c":"rd"},{"x":403.5,"y":32.6,"c":"rd"},{"x":403.25,"y":32.7,"c":"rd"},{"x":403,"y":32.7,"c":"rd"},{"x":402.75,"y":32.8,"c":"rd"},{"x":402.5,"y":32.9,"c":"rd"},{"x":402.25,"y":33.1,"c":"rd"},{"x":402,"y":33.2,"c":"rd"},{"x":401.75,"y":33.4,"c":"rd"},{"x":401.5,"y":33.6,"c":"rd"},{"x":401.25,"y":34,"c":"rd"},{"x":401,"y":34.4,"c":"rd"},{"x":400.75,"y":35,"c":"rd"},{"x":400.5,"y":36.2,"c":"rd"},{"x":400.25,"y":38.3,"c":"rd"},{"x":400,"y":42.5,"c":"rd"},{"x":399.75,"y":49.7,"c":"rd"},{"x":399.5,"y":61,"c":"rd"},{"x":399.25,"y":76.3,"c":"rd"},{"x":399,"y":93.5,"c":"rd"},{"x":398.75,"y":108.1,"c":"rd"},{"x":398.5,"y":114,"c":"rd"},{"x":398.25,"y":110.1,"c":"rd"},{"x":398,"y":100,"c":"rd"},{"x":397.75,"y":86.6,"c":"rd"},{"x":397.5,"y":73,"c":"rd"},{"x":397.25,"y":61,"c":"rd"},{"x":397,"y":51.7,"c":"rd"},{"x":396.75,"y":45,"c":"rd"},{"x":396.5,"y":40.5,"c":"rd"},{"x":396.25,"y":37.7,"c":"rd"},{"x":396,"y":36.2,"c":"rd"}
],
"vlines":[{"x":401.55,"y":507,"y2":49},{"x":399.87,"y":550,"y2":69},{"x":398.5,"y":534,"y2":77}],
"labels":[{"x":401.66,"y":529,"t":"Quaternary N"},{"x":399.94,"y":607,"t":"Pyrrolic N"},{"x":399.9,"y":575,"t":"Pyridonic N"},{"x":398.39,"y":552,"t":"Pyridinic N"}]
},
"encoding":{
"x":{"field":"x","type":"quantitative","scale":{"domain":[396,404],"reverse":true,"nice":false,"zero":false},
"axis":{"title":"B.E. / eV","values":[404,403,402,401,400,399,398,397,396],"format":"d","grid":false,"tickSize":-6,"tickColor":"#000","domainColor":"#000","domainWidth":1.2,"labelFontSize":20,"labelColor":"#222","labelPadding":27,"labelFlush":false,"titleFontSize":20,"titleFontWeight":"normal","titleColor":"#222","titlePadding":8}},
"y":{"field":"y","type":"quantitative","scale":{"domain":[0,697],"nice":false,"zero":false},
"axis":{"title":"Intensity\u00a0 / a.u.","labels":false,"ticks":false,"domain":false,"grid":false,"titleFontSize":20,"titleFontWeight":"normal","titleColor":"#222","titlePadding":22}}
},
"layer":[
{"data":{"name":"noisy"},"mark":{"type":"line","strokeWidth":8,"interpolate":"monotone","strokeCap":"round","strokeJoin":"round"},
"encoding":{"color":{"field":"s","type":"nominal","scale":{"domain":["CNT_Co_1%_NH3_500","CNT_Co_17%_500","CNT_Co_9%_500","CNT_Co_1%_500"],"range":["#4A7AC6","#FFFF00","#6CD046","#FF0000"]},
"legend":{"orient":"none","legendX":13,"legendY":6,"title":null,"symbolType":"M-1.4,0H1.4","symbolSize":676,"symbolStrokeWidth":8,"labelFontSize":21,"labelColor":"#595959","labelOffset":2,"labelLimit":0,"rowPadding":0.5,"padding":0}}}},
{"data":{"name":"comp"},"mark":{"type":"line","strokeWidth":2,"color":"#1AAAC6","interpolate":"monotone"},"encoding":{"detail":{"field":"c","type":"nominal"}}},
{"data":{"name":"fit"},"mark":{"type":"line","strokeWidth":3.5,"color":"#000","interpolate":"monotone"},"encoding":{"detail":{"field":"s","type":"nominal"}}},
{"data":{"name":"vlines"},"mark":{"type":"rule","color":"#D6474B","strokeWidth":3,"strokeDash":[10,8]},"encoding":{"y2":{"field":"y2"}}},
{"data":{"name":"labels"},"mark":{"type":"text","fontSize":22,"color":"#111","align":"center","baseline":"middle"},"encoding":{"text":{"field":"t","type":"nominal"}}}
]
}
